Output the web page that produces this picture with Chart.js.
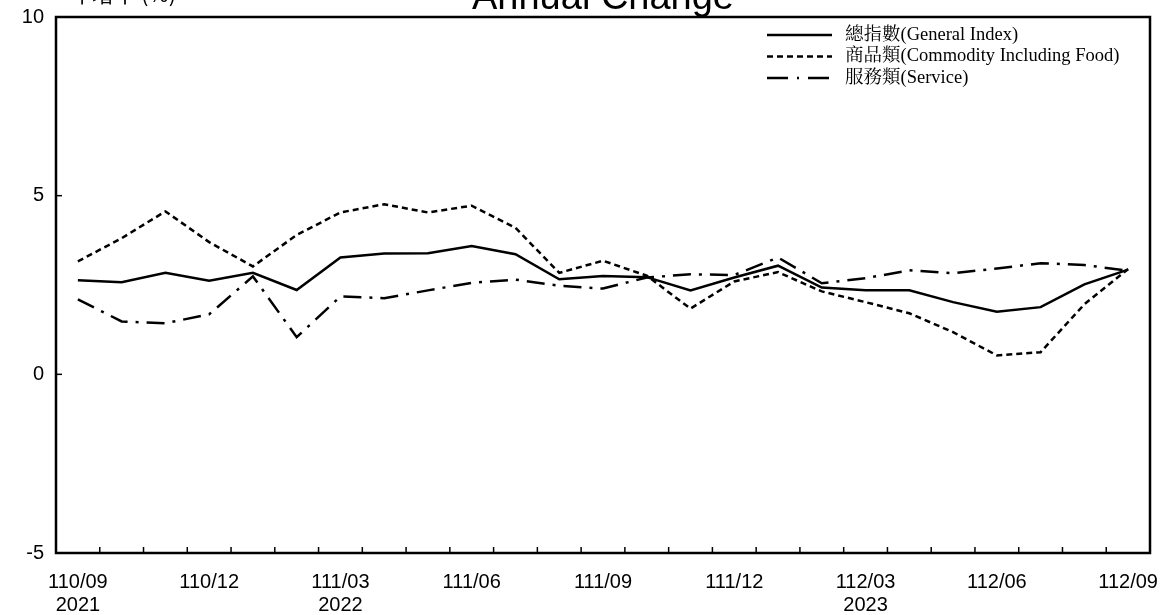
<!DOCTYPE html>
<html>
<head>
<meta charset="utf-8">
<script src="https://cdn.jsdelivr.net/npm/chart.js@4"></script>
<style>
  html, body { margin: 0; padding: 0; background: #fff; }
  #wrap { width: 1169px; height: 615px; }
</style>
</head>
<body>
<div id="wrap"><canvas id="chartjs"></canvas></div>
<script>
const months = [
  '110/09', '110/10', '110/11', '110/12', '111/01', '111/02', '111/03', '111/04', '111/05',
  '111/06', '111/07', '111/08', '111/09', '111/10', '111/11', '111/12', '112/01', '112/02',
  '112/03', '112/04', '112/05', '112/06', '112/07', '112/08', '112/09'
];

// shown every 3 months, with the western year under some of them
const tickLabels = {
  '110/09': ['110/09', '2021'],
  '110/12': '110/12',
  '111/03': ['111/03', '2022'],
  '111/06': '111/06',
  '111/09': '111/09',
  '111/12': '111/12',
  '112/03': ['112/03', '2023'],
  '112/06': '112/06',
  '112/09': '112/09'
};

const generalIndex = [2.63, 2.58, 2.84, 2.62, 2.84, 2.36, 3.27, 3.38, 3.39, 3.59, 3.36, 2.66, 2.75,
  2.72, 2.35, 2.71, 3.04, 2.43, 2.35, 2.35, 2.02, 1.75, 1.88, 2.52, 2.93];
const commodity = [3.16, 3.81, 4.56, 3.70, 3.02, 3.90, 4.53, 4.76, 4.53, 4.72, 4.10, 2.84, 3.18,
  2.76, 1.84, 2.60, 2.86, 2.32, 2.02, 1.71, 1.18, 0.53, 0.62, 1.96, 2.95];
const service = [2.10, 1.48, 1.43, 1.68, 2.74, 1.04, 2.18, 2.13, 2.35, 2.56, 2.65, 2.48, 2.40,
  2.71, 2.80, 2.78, 3.27, 2.55, 2.69, 2.91, 2.83, 2.96, 3.11, 3.06, 2.90];

const seriesNames = ['總指數(General Index)', '商品類(Commodity Including Food)', '服務類(Service)'];
const dashes = [[], [6, 4], [18, 8, 3, 8]];
const legendDashes = [[], [6, 4], [21, 9, 2, 9]];

const sans = '"Liberation Sans", Arial, sans-serif';
const serif = '"Liberation Serif", "Noto Serif CJK TC", "Noto Sans CJK TC", serif';

// frame, inward tick marks, title and the legend
const decor = {
  id: 'decor',
  afterDraw(chart) {
    const c = chart.ctx;
    const a = chart.chartArea;
    const xs = chart.scales.x;
    const ys = chart.scales.y;
    c.save();
    c.strokeStyle = '#000';
    c.fillStyle = '#000';

    c.lineWidth = 1.5;
    [0, 5].forEach(v => {
      const y = ys.getPixelForValue(v);
      c.beginPath(); c.moveTo(a.left, y); c.lineTo(a.left + 6, y); c.stroke();
    });
    for (let i = 1; i < months.length; i++) {
      const x = (xs.getPixelForValue(i - 1) + xs.getPixelForValue(i)) / 2;
      c.beginPath(); c.moveTo(x, a.bottom); c.lineTo(x, a.bottom - 6); c.stroke();
    }

    c.lineWidth = 2.5;
    c.strokeRect(a.left, a.top, a.right - a.left, a.bottom - a.top);

    c.font = '38px ' + sans;
    c.textAlign = 'center';
    c.textBaseline = 'alphabetic';
    c.fillText('Annual Change', (a.left + a.right) / 2, 9);

    c.font = '22px "Noto Sans CJK TC", ' + sans;
    c.textAlign = 'left';
    c.fillText('年增率 (%)', 70, 2);

    c.font = '18.5px ' + serif;
    c.textBaseline = 'middle';
    seriesNames.forEach((name, i) => {
      const y = 35 + i * 21.5;
      c.lineWidth = 2.5;
      c.setLineDash(legendDashes[i]);
      c.beginPath(); c.moveTo(767, y); c.lineTo(832, y); c.stroke();
      c.setLineDash([]);
      c.fillText(name, 845, y);
    });
    c.restore();
  }
};

const chart = new Chart(document.getElementById('chartjs'), {
  type: 'line',
  data: {
    labels: months,
    datasets: [generalIndex, commodity, service].map((d, i) => ({
      label: seriesNames[i],
      data: d,
      borderColor: '#000',
      borderWidth: 2.5,
      borderDash: dashes[i],
      pointRadius: 0,
      fill: false,
      tension: 0
    }))
  },
  options: {
    responsive: true,
    maintainAspectRatio: false,
    animation: false,
    layout: { padding: { top: 17, right: 19, left: 0, bottom: 0 } },
    plugins: {
      legend: { display: false },
      tooltip: { enabled: false }
    },
    scales: {
      x: {
        offset: true,
        grid: { display: false },
        border: { display: false },
        afterFit: s => { s.height = 62; s.paddingLeft = 0; s.paddingRight = 0; },
        ticks: {
          autoSkip: false,
          maxRotation: 0,
          padding: 10,
          color: '#000',
          font: { size: 20, family: sans, lineHeight: 1.15 },
          callback: (v, i) => tickLabels[months[i]] || ''
        }
      },
      y: {
        min: -5,
        max: 10,
        grid: { display: false, drawTicks: false },
        border: { display: false },
        afterFit: s => { s.width = 56; s.paddingTop = 0; s.paddingBottom = 0; },
        ticks: {
          stepSize: 5,
          padding: 12,
          color: '#000',
          font: { size: 20, family: sans }
        }
      }
    }
  },
  plugins: [decor]
});
</script>
</body>
</html>
